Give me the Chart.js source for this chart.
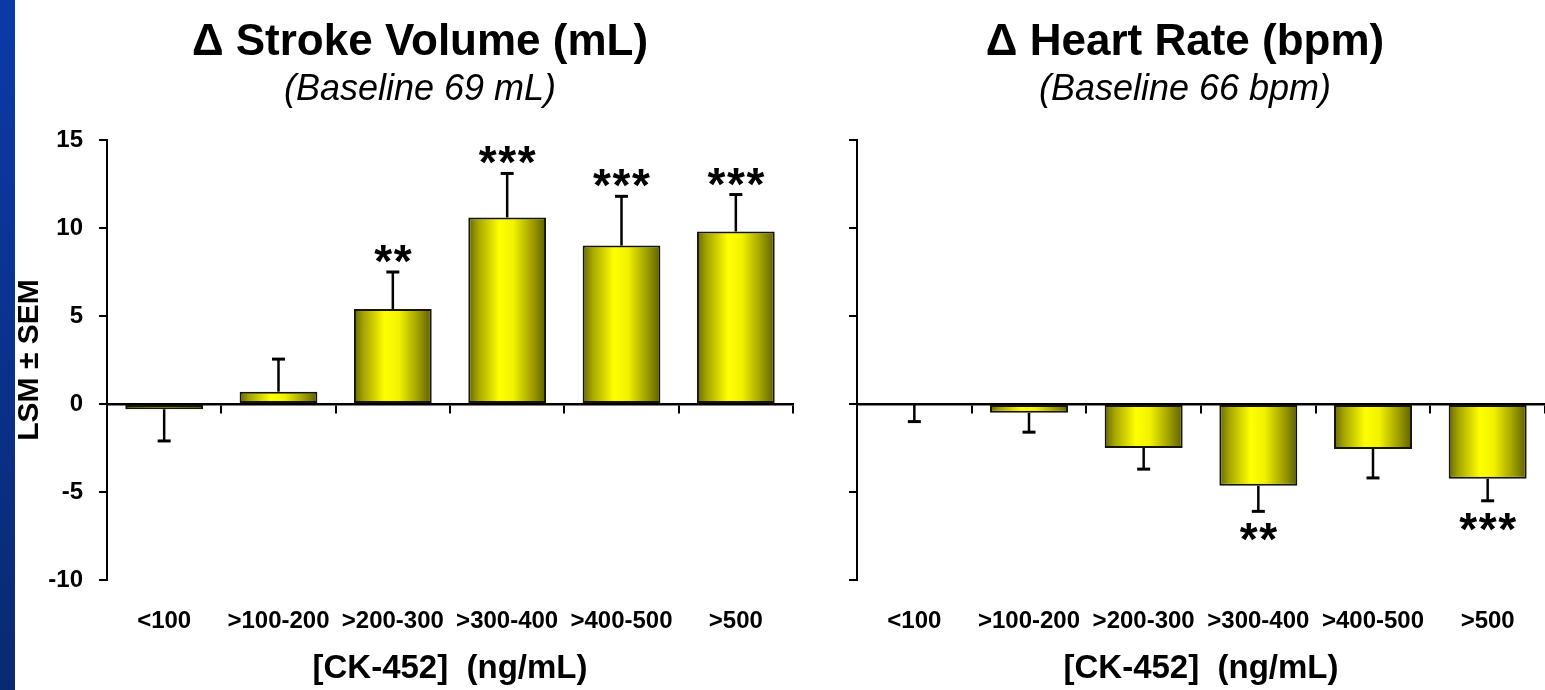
<!DOCTYPE html>
<html>
<head>
<meta charset="utf-8">
<script src="https://cdn.jsdelivr.net/npm/chart.js@4.4.1/dist/chart.umd.min.js"></script>
<style>
    html, body { margin: 0; padding: 0; background: #fff; overflow: hidden; }
    #strip { position: absolute; left: 0; top: 0; width: 15px; height: 690px; background: linear-gradient(#0b3aa8, #0a2a70); }
    #wrapSv { position: absolute; left: 15px; top: 0; width: 810px; height: 690px; }
    #wrapHr { position: absolute; left: 825px; top: 0; width: 720px; height: 690px; }
</style>
</head>
<body>
<div id="strip"></div>
<div id="wrapSv"><canvas id="svChart"></canvas></div>
<div id="wrapHr"><canvas id="hrChart"></canvas></div>
<script>
// categories (plasma concentration bins)
const cats = ["<100", ">100-200", ">200-300", ">300-400", ">400-500", ">500"];

// stroke volume change, LSM and SEM
const svMean = [-0.3, 0.7, 5.4, 10.6, 9.0, 9.8];
const svSem = [1.8, 1.85, 2.1, 2.5, 2.8, 2.1];
const svStars = ["", "", "**", "***", "***", "***"];

// heart rate change, LSM and SEM
const hrMean = [0, -0.5, -2.5, -4.65, -2.55, -4.25];
const hrSem = [1.0, 1.1, 1.2, 1.45, 1.65, 1.25];
const hrStars = ["", "", "", "**", "", "***"];

const yTicks = [-10, -5, 0, 5, 10, 15];
const barPct = 0.68;

Chart.defaults.font.family = '"Liberation Sans", Arial, Helvetica, sans-serif';
Chart.defaults.color = "#000";

function barFill(context) {
    var chart = context.chart;
    var xs = chart.scales.x;
    if (!xs || context.dataIndex === undefined) return "#ffff00";
    var cx = xs.getPixelForValue(context.dataIndex);
    var half = xs.width / cats.length * barPct / 2;
    if (!isFinite(cx) || !isFinite(half) || half <= 0) return "#ffff00";
    var g = chart.ctx.createLinearGradient(cx - half, 0, cx + half, 0);
    g.addColorStop(0, "#666600");
    g.addColorStop(0.12, "#a3a300");
    g.addColorStop(0.4, "#ffff00");
    g.addColorStop(0.58, "#f2f200");
    g.addColorStop(0.85, "#969600");
    g.addColorStop(1, "#5e5e00");
    return g;
}

// error bars + significance stars, drawn with the chart's own scales
function errorPlugin(means, sems, stars, down) {
    return {
        id: "errorBars",
        afterDatasetsDraw(chart) {
            var ctx = chart.ctx;
            var ys = chart.scales.y;
            var meta = chart.getDatasetMeta(0);
            ctx.save();
            ctx.strokeStyle = "#000";
            ctx.fillStyle = "#000";
            ctx.font = 'bold 46px "Liberation Sans", Arial, sans-serif';
            ctx.textAlign = "center";
            ctx.textBaseline = "alphabetic";
            var m = ctx.measureText("*");
            var mid = (m.actualBoundingBoxAscent - m.actualBoundingBoxDescent) / 2;
            meta.data.forEach(function (bar, i) {
                var v = means[i];
                var dir = (v < 0 || (v === 0 && down)) ? -1 : 1;
                var y0 = ys.getPixelForValue(v);
                var y1 = ys.getPixelForValue(v + dir * sems[i]);
                ctx.lineWidth = 2.5;
                ctx.beginPath();
                ctx.moveTo(bar.x, y0);
                ctx.lineTo(bar.x, y1);
                ctx.stroke();
                ctx.lineWidth = 3;
                ctx.beginPath();
                ctx.moveTo(bar.x - 6.5, y1);
                ctx.lineTo(bar.x + 6.5, y1);
                ctx.stroke();
                var s = stars[i];
                if (s) {
                    var cy = dir > 0 ? y1 - 18 : y1 + 21;
                    for (var k = 0; k < s.length; k++) {
                        var sx = bar.x + (k - (s.length - 1) / 2) * 19.5;
                        ctx.fillText("*", sx, cy + mid);
                    }
                }
            });
            ctx.restore();
        }
    };
}

function makeScales(showY, yWidth, rightGap) {
    var scales = {
        x: {
            type: "category",
            position: { y: 0 },
            offset: true,
            grid: { offset: true, drawOnChartArea: false, drawTicks: true, tickLength: 8, color: "#000", lineWidth: 2 },
            border: { display: true, color: "#000", width: 2.5 },
            ticks: { display: false }
        },
        xl: {
            type: "category",
            position: "bottom",
            labels: cats,
            offset: true,
            grid: { display: false, drawTicks: false },
            border: { display: false },
            ticks: { padding: 27, font: { size: 24, weight: "bold" }, color: "#000", maxRotation: 0, autoSkip: false },
            title: { display: true, text: "[CK-452]  (ng/mL)", font: { size: 33, weight: "bold", lineHeight: 1 }, padding: { top: 0, bottom: 5 }, color: "#000" },
            afterFit: function (scale) { scale.height = 110; }
        },
        y: {
            position: "left",
            min: -10,
            max: 15,
            afterBuildTicks: function (scale) { scale.ticks = yTicks.map(function (v) { return { value: v }; }); },
            grid: { drawOnChartArea: false, drawTicks: true, tickLength: 8, color: "#000", lineWidth: 2 },
            border: { display: true, color: "#000", width: 2 },
            ticks: { display: showY, padding: 16, font: { size: 24, weight: "bold" }, color: "#000" },
            title: { display: showY, text: "LSM ± SEM", font: { size: 30, weight: "bold", lineHeight: 1 }, padding: 0, color: "#000" },
            afterFit: function (scale) { scale.width = yWidth; }
        }
    };
    if (rightGap) {
        // empty spacer on the right so the title stays centred on the canvas
        scales.yr = {
            position: "right",
            grid: { display: false, drawTicks: false },
            border: { display: false },
            ticks: { display: false },
            afterFit: function (scale) { scale.width = rightGap; }
        };
    }
    return scales;
}

function barDataset(means) {
    return {
        data: means,
        xAxisID: "x",
        yAxisID: "y",
        backgroundColor: barFill,
        borderColor: "#151500",
        borderWidth: 2,
        borderSkipped: false,
        barPercentage: barPct,
        categoryPercentage: 1
    };
}

function titles(main, sub) {
    return {
        legend: { display: false },
        tooltip: { enabled: false },
        title: { display: true, text: main, font: { size: 44, weight: "bold", lineHeight: 1.2 }, padding: { top: 16, bottom: 0 }, color: "#000" },
        subtitle: { display: true, text: sub, font: { size: 36, style: "italic", lineHeight: 1.2 }, padding: { top: 0, bottom: 28 }, color: "#000" }
    };
}

var svChart = new Chart(document.getElementById("svChart"), {
    type: "bar",
    data: { labels: cats, datasets: [barDataset(svMean)] },
    options: {
        responsive: true,
        maintainAspectRatio: false,
        animation: false,
        layout: { padding: 0 },
        scales: makeScales(true, 92, 32),
        plugins: titles("\u0394 Stroke Volume (mL)", "(Baseline 69 mL)")
    },
    plugins: [errorPlugin(svMean, svSem, svStars, false)]
});

var hrChart = new Chart(document.getElementById("hrChart"), {
    type: "bar",
    data: { labels: cats, datasets: [barDataset(hrMean)] },
    options: {
        responsive: true,
        maintainAspectRatio: false,
        animation: false,
        layout: { padding: 0 },
        scales: makeScales(false, 32, 0),
        plugins: titles("\u0394 Heart Rate (bpm)", "(Baseline 66 bpm)")
    },
    plugins: [errorPlugin(hrMean, hrSem, hrStars, true)]
});

svChart.update();
hrChart.update();
</script>
</body>
</html>
